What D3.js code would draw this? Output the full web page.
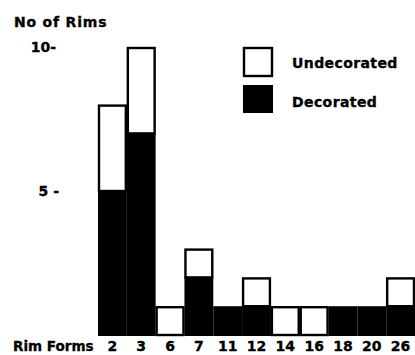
<!DOCTYPE html>
<html>
<head>
<meta charset="utf-8">
<script src="https://cdn.jsdelivr.net/npm/d3@7"></script>
<style>
  html, body { margin: 0; padding: 0; background: #fff; }
  svg text { font-family: "DejaVu Sans", "Liberation Sans", Arial, sans-serif; font-weight: bold; fill: #000; stroke: #000; stroke-width: 0.35px; }
</style>
</head>
<body>
<svg id="chart" width="415" height="355"></svg>
<script>
// Rim forms and counts of rims per form
const rimForms = ["2", "3", "6", "7", "11", "12", "14", "16", "18", "20", "26"];
const decorated = [5, 7, 0, 2, 1, 1, 0, 0, 1, 1, 1];
const undecorated = [3, 3, 1, 1, 0, 1, 1, 1, 0, 0, 1];
const yTickValues = [5, 10];
const yTickLabels = ["5 -", "10-"];
const seriesNames = ["Undecorated", "Decorated"];

const FONT = "DejaVu Sans, Liberation Sans, Arial, sans-serif";
const svg = d3.select("#chart");

const x = d3.scaleBand().domain(rimForms).range([98, 415]).padding(0);
const y = d3.scaleLinear().domain([0, 10]).range([335, 47]);

const rows = rimForms.map((f, i) => ({ form: f, Decorated: decorated[i], Undecorated: undecorated[i] }));
const stack = d3.stack().keys(["Decorated", "Undecorated"])(rows);

// Undecorated segments: white boxes with heavy outline
stack[1].forEach(d => {
  if (d[1] - d[0] <= 0) return;
  svg.append("rect")
    .attr("x", x(d.data.form) + 1)
    .attr("y", y(d[1]) + 1)
    .attr("width", x.bandwidth() - 2)
    .attr("height", y(d[0]) - y(d[1]) - 1)
    .attr("fill", "#fff")
    .attr("stroke", "#000")
    .attr("stroke-width", 2.4);
});

// Decorated segments: solid black
stack[0].forEach(d => {
  if (d[1] - d[0] <= 0) return;
  svg.append("rect")
    .attr("x", x(d.data.form))
    .attr("y", y(d[1]))
    .attr("width", x.bandwidth())
    .attr("height", y(d[0]) - y(d[1]) + 1)
    .attr("fill", "#000");
});

// Y axis: labels only
const yAxis = d3.axisLeft(y).tickValues(yTickValues)
  .tickFormat((d, i) => yTickLabels[i]).tickSize(0).tickPadding(0);
const gy = svg.append("g").attr("transform", "translate(59,0)").call(yAxis);
gy.select(".domain").remove();
gy.selectAll("text").style("font-size", "14px").style("font-family", FONT).style("font-weight", "bold");
gy.selectAll(".tick").filter(d => d === 10).select("text").attr("x", -3);

svg.append("text").attr("x", 14).attr("y", 27).style("font-size", "14px").style("letter-spacing", "0.8px").text("No of Rims");

// X axis: labels only
const xAxis = d3.axisBottom(x).tickSize(0).tickPadding(0);
const gx = svg.append("g").attr("transform", "translate(0,341)").call(xAxis);
gx.select(".domain").remove();
gx.selectAll("text").attr("dy", "0.71em").style("font-size", "14px").style("font-family", FONT).style("font-weight", "bold");

svg.append("text").attr("x", 13).attr("y", 351).style("font-size", "13.5px").text("Rim Forms");

// Legend
const legend = svg.append("g");
legend.append("rect").attr("x", 244).attr("y", 48).attr("width", 28).attr("height", 28)
  .attr("fill", "#fff").attr("stroke", "#000").attr("stroke-width", 2.4);
legend.append("rect").attr("x", 243).attr("y", 85).attr("width", 30).attr("height", 28).attr("fill", "#000");
legend.append("text").attr("x", 292).attr("y", 68).style("font-size", "14px").style("letter-spacing", "0.4px").text(seriesNames[0]);
legend.append("text").attr("x", 292).attr("y", 107).style("font-size", "14px").style("letter-spacing", "0.4px").text(seriesNames[1]);
</script>
</body>
</html>
